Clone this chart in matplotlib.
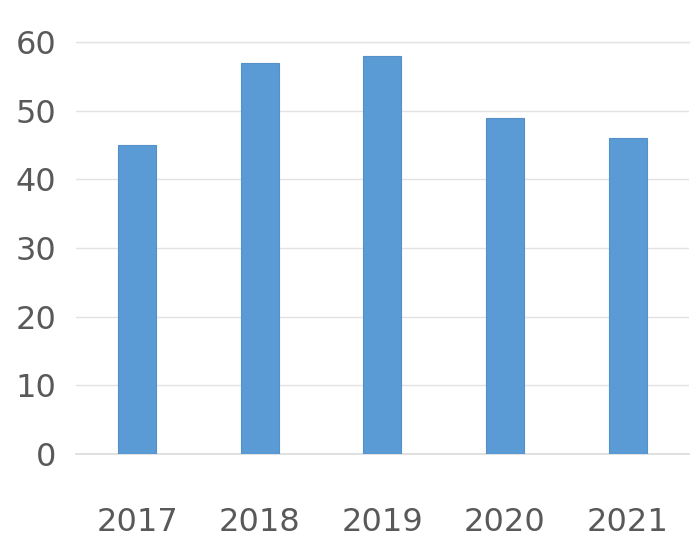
import matplotlib
matplotlib.use("Agg")
from matplotlib import pyplot as plt

years = ["2017", "2018", "2019", "2020", "2021"]
values = [45, 57, 58, 49, 46]

fig = plt.figure(figsize=(7.0, 5.6), dpi=100)
ax = fig.add_axes([0.1086, 0.189, 0.8754, 0.736])

ax.bar(range(len(years)), values, width=0.31, color="#5B9BD5",
       edgecolor="#5590C8", linewidth=0.8, zorder=3)

ax.set_xlim(-0.5, len(years) - 0.5)
ax.set_ylim(0, 60)
ax.set_yticks(range(0, 61, 10))
ax.set_xticks(range(len(years)))
ax.set_xticklabels(years)

ax.yaxis.grid(True, color="#E2E2E2", linewidth=1.0, zorder=0)
ax.axhline(0, color="#DCDCDC", linewidth=1.2, zorder=2, clip_on=False)
ax.axhline(60, color="#E2E2E2", linewidth=1.0, zorder=0, clip_on=False)
for s in ax.spines.values():
    s.set_visible(False)
ax.tick_params(axis="both", length=0, labelsize=23, labelcolor="#595959")
ax.tick_params(axis="y", pad=14)
ax.tick_params(axis="x", pad=38)

fig.savefig("out.png", dpi=100)
